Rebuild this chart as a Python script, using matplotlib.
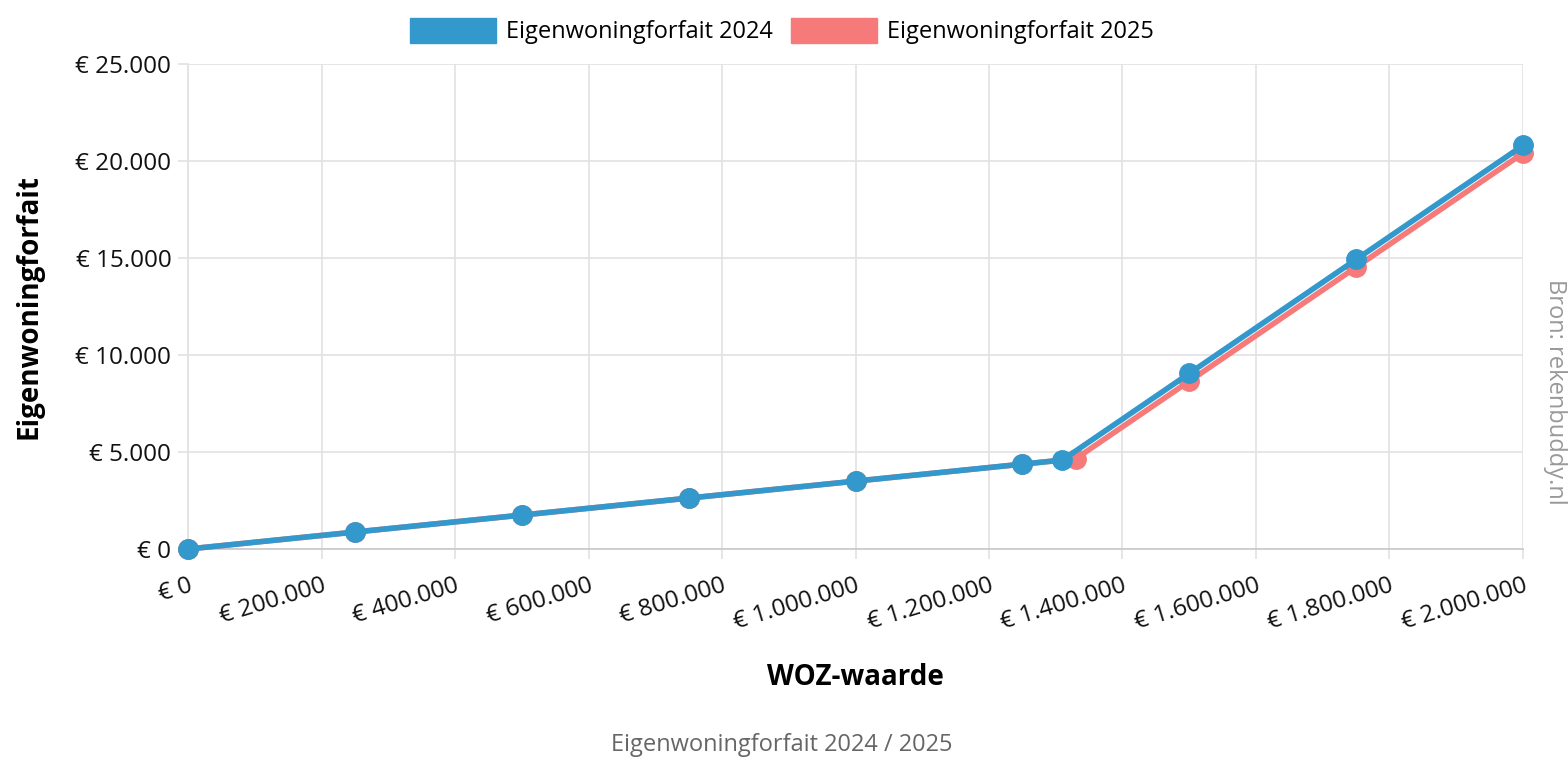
import matplotlib
matplotlib.use("Agg")
import matplotlib.pyplot as plt
from matplotlib.patches import Patch
from matplotlib.ticker import FuncFormatter, MultipleLocator

plt.rcParams['font.family'] = ['Open Sans', 'DejaVu Sans']

# WOZ-waarde points and forfait per year
woz_2024 = [0, 250000, 500000, 750000, 1000000, 1250000, 1310000, 1500000, 1750000, 2000000]
forfait_2024 = [0, 875, 1750, 2625, 3500, 4375, 4585, 9050, 14925, 20800]
woz_2025 = [0, 250000, 500000, 750000, 1000000, 1250000, 1330000, 1500000, 1750000, 2000000]
forfait_2025 = [0, 875, 1750, 2625, 3500, 4375, 4655, 8650, 14525, 20400]

blue = "#3399cc"
red = "#f77a7a"
grid_c = "#e2e2e2"


def euro(v, pos=None):
    return "€ " + "{:,.0f}".format(v).replace(",", ".")


fig = plt.figure(figsize=(15.68, 7.84), dpi=100)
ax = fig.add_axes([0.1199, 0.2997, 0.8514, 0.6187])

ax.plot(woz_2025, forfait_2025, color=red, lw=4, marker="o", ms=14, zorder=3, clip_on=False)
ax.plot(woz_2024, forfait_2024, color=blue, lw=4, marker="o", ms=14, zorder=4, clip_on=False)

ax.set_xlim(0, 2000000)
ax.set_ylim(0, 25000)
ax.xaxis.set_major_locator(MultipleLocator(200000))
ax.yaxis.set_major_locator(MultipleLocator(5000))
ax.xaxis.set_major_formatter(FuncFormatter(euro))
ax.yaxis.set_major_formatter(FuncFormatter(euro))

ax.grid(True, color=grid_c, lw=1.2)
ax.set_axisbelow(True)
for s in ["top", "right"]:
    ax.spines[s].set_visible(False)
ax.spines["left"].set_color(grid_c)
ax.spines["bottom"].set_color("#c8c8c8")
ax.spines["left"].set_linewidth(1.2)
ax.spines["bottom"].set_linewidth(1.2)

ax.tick_params(axis="both", length=7, width=1.2, color=grid_c, labelsize=17.5, labelcolor="#111111")
ax.tick_params(axis="y", pad=5)
ax.tick_params(axis="x", pad=11)
for lab in ax.get_xticklabels():
    lab.set_rotation(17)
    lab.set_ha("right")
    lab.set_va("top")
    lab.set_rotation_mode("anchor")

ax.set_xlabel("WOZ-waarde", fontsize=20, fontweight="bold")
ax.set_ylabel("Eigenwoningforfait", fontsize=20, fontweight="bold")
ax.xaxis.set_label_coords(0.5, -0.235)
ax.yaxis.set_label_coords(-0.108, 0.5)

handles = [Patch(color=blue, label="Eigenwoningforfait 2024"),
           Patch(color=red, label="Eigenwoningforfait 2025")]
fig.legend(handles=handles, loc="center", bbox_to_anchor=(0.4987, 0.9605), ncol=2,
           frameon=False, fontsize=17, handlelength=3.64, handleheight=1.27,
           handletextpad=0.4, columnspacing=0.8)

fig.text(0.4987, 0.0497, "Eigenwoningforfait 2024 / 2025", ha="center", va="center",
         fontsize=17, color="#666666")
fig.text(0.9917, 0.5, "Bron: rekenbuddy.nl", ha="center", va="center", rotation=-90,
         fontsize=17, color="#999999")

fig.savefig("out.png", dpi=100)
